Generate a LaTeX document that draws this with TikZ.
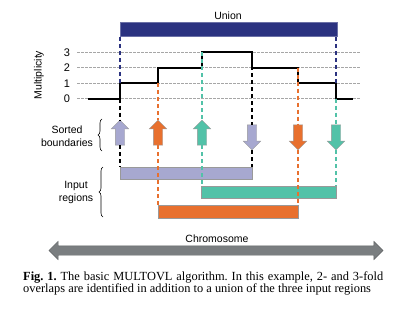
\documentclass[tikz,border=0pt]{standalone}
\usepackage{fontspec}
\setmainfont{Liberation Serif}
\setsansfont{Liberation Sans}
\usetikzlibrary{shapes.arrows, decorations.pathreplacing}

\definecolor{unionblue}{RGB}{43,50,128}
\definecolor{lavender}{RGB}{167,168,208}
\definecolor{regorange}{RGB}{232,112,46}
\definecolor{regteal}{RGB}{82,194,168}
\definecolor{chromgray}{RGB}{122,126,128}

\tikzset{
  lbl/.style={font=\sffamily\fontsize{10.5}{13}\selectfont, inner sep=0pt},
  gridline/.style={gray!70, dash pattern=on 2.5pt off 1.5pt, line width=0.5pt},
  stepline/.style={line width=1.7pt},
  guide/.style={line width=1.6pt, dash pattern=on 4pt off 3pt},
  upbnd/.style={single arrow, rotate=90, minimum height=25pt, minimum width=17pt,
    single arrow head extend=4pt, inner xsep=0pt, inner ysep=4.5pt, draw=gray!80, line width=0.4pt},
  downbnd/.style={upbnd, rotate=180},
  region/.style={draw=gray!80, line width=0.4pt, minimum height=12.5pt, inner sep=0pt, anchor=north west},
  brc/.style={decorate, decoration={brace, amplitude=4pt}, line width=0.6pt}
}

\begin{document}
\begin{tikzpicture}[x=1pt, y=-1pt]
        \useasboundingbox (0,0) rectangle (417,313);

        \node[region, fill=unionblue, draw=unionblue!70!white, minimum width=217pt, minimum height=14pt] (union) at (119.5,22.5) {};
        \node[lbl] (unionlbl) at (228,16) {Union};

        \foreach \lv/\yy in {0/98.7, 1/83.3, 2/67.7, 3/52.3} {
            \draw[gridline] (77,\yy) -- (361,\yy);
            \node[lbl, font=\sffamily\fontsize{11}{13}\selectfont] (l\lv) at (67,\yy) {\lv};
        }
        \node[lbl, rotate=90] (mult) at (39,75) {Multiplicity};

        \draw[stepline] (88,98.7) -- (120,98.7) |- (158,83.3) |- (202,67.7) |- (252,52.3)
            |- (298,67.7) |- (336,83.3) |- (353,98.7);

        \node[upbnd, fill=lavender] at (120,135) (u1) {};
        \node[upbnd, fill=regorange] at (158,135) (u2) {};
        \node[upbnd, fill=regteal] at (202,135) (u3) {};
        \node[downbnd, fill=lavender] at (252,135) (d1) {};
        \node[downbnd, fill=regorange] at (298,135) (d2) {};
        \node[downbnd, fill=regteal] at (336,135) (d3) {};

        \node[region, fill=lavender, minimum width=132pt] (lav) at (120,166.7) {};
        \node[region, fill=regteal, minimum width=135pt] (teal) at (201,185.5) {};
        \node[region, fill=regorange, minimum width=140pt] (orange) at (158,205) {};

        \draw[guide, unionblue] (union.south -| u1.tip) -- (u1.tip |- l1);
        \draw[guide] (u1.tip |- l0) -- (u1.tip);
        \draw[guide, regorange] (u2.tip |- l1) -- (u2.tip);
        \draw[guide, regteal] (u3.tip |- l3) -- (u3.tip);
        \draw[guide] (d1.tail |- l3) -- (d1.tail);
        \draw[guide, regorange] (d2.tail |- l2) -- (d2.tail);
        \draw[guide, unionblue] (union.south -| d3.tail) -- (d3.tail |- l1);
        \draw[guide, regteal] (d3.tail |- l0) -- (d3.tail);

        \draw[guide] (u1.tail) -- (u1.tail |- lav.north);
        \draw[guide] (d1.tip) -- (d1.tip |- lav.north);
        \draw[guide, regorange] (u2.tail) -- (u2.tail |- orange.north);
        \draw[guide, regorange] (d2.tip) -- (d2.tip |- orange.north);
        \draw[guide, regteal] (u3.tail) -- (u3.tail |- teal.north);
        \draw[guide, regteal] (d3.tip) -- (d3.tip |- teal.north);

        \draw[brc] (102,151) -- (102,119);
        \draw[brc] (103,217) -- (103,167);
        \node[lbl, align=center] (sorted) at (67,135.8) {Sorted\\boundaries};
        \node[lbl, align=center] (input) at (76,192.7) {Input\\regions};

        \node[lbl] (chromlbl) at (217,239) {Chromosome};
        \node[double arrow, fill=chromgray, draw=chromgray!80!black, line width=0.4pt, inner xsep=0pt, inner ysep=4.5pt,
            minimum height=334pt, minimum width=18pt, double arrow head extend=4.5pt] (chrom) at (216,250.5) {};

        \node[anchor=north west, inner sep=0pt, text width=360pt, align=justify,
            font=\fontsize{12.4}{11.8}\selectfont] (caption) at (23,271.5)
            {\frenchspacing\parfillskip=0pt \textbf{Fig. 1.} The basic MULTOVL algorithm. In this example, 2- and 3-fold\linebreak
            overlaps are identified in addition to a union of the three input regions};
    \end{tikzpicture}
\end{document}
